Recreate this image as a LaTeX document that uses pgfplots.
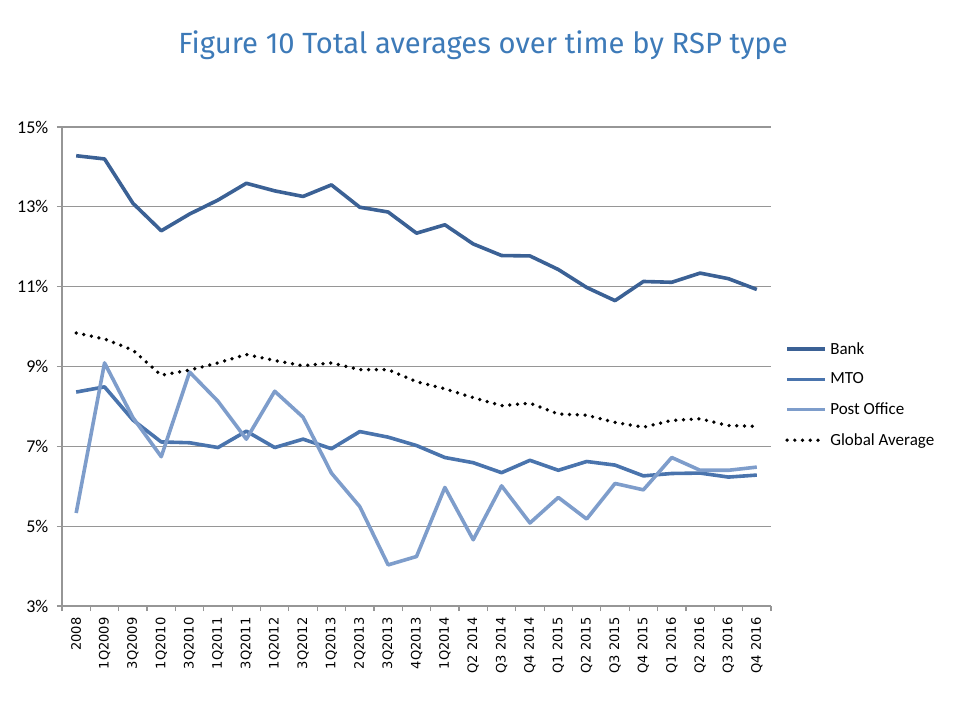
\documentclass[border=0pt]{standalone}
\usepackage{fontspec}
\setmainfont{Carlito}
\newfontfamily\xfont{DejaVu Sans}
\newfontfamily\titlefont{Fira Sans}
\usepackage{pgfplots}
\pgfplotsset{compat=1.18}
\definecolor{bankc}{HTML}{3B6195}
\definecolor{mtoc}{HTML}{4A74AD}
\definecolor{postc}{HTML}{7E9DCB}
\definecolor{titlec}{HTML}{3D7AB8}
\definecolor{gridc}{HTML}{969696}
\begin{document}
\begin{tikzpicture}
\path[use as bounding box] (0pt,0pt) rectangle (721.5pt,531pt);
\node[font=\titlefont\fontsize{21.9}{26}\selectfont, text=titlec] at (362.25pt,497pt) {Figure 10 Total averages over time by RSP type};
\begin{axis}[
  at={(46.5pt,76.5pt)}, anchor=south west,
  scale only axis, width=531.75pt, height=359.25pt,
  xmin=-0.5, xmax=24.5, ymin=3, ymax=15,
  axis x line*=bottom, axis y line*=left,
  axis line style={draw=gridc, line width=0.9pt, -},
  ymajorgrids, grid style={draw=gridc, line width=0.9pt},
  ytick={3,5,...,15},
  yticklabel={\pgfmathprintnumber{\tick}\%},
  /pgf/number format/assume math mode=true,
  yticklabel style={font=\fontsize{13.5}{15}\selectfont, xshift=-3pt},
  tick align=outside, major tick length=3.75pt,
  tick style={draw=gridc, line width=0.9pt},
  xtick={-0.5,0.5,...,24.5}, xticklabels={},
  extra x ticks={0,1,...,24},
  extra x tick style={major tick length=0pt, grid=none},
  extra x tick labels={2008,1Q2009,3Q2009,1Q2010,3Q2010,1Q2011,3Q2011,1Q2012,3Q2012,1Q2013,2Q2013,3Q2013,4Q2013,1Q2014,Q2 2014,Q3 2014,Q4 2014,Q1 2015,Q2 2015,Q3 2015,Q4 2015,Q1 2016,Q2 2016,Q3 2016,Q4 2016},
  x tick label style={font=\xfont\fontsize{9.8}{11}\selectfont, rotate=90, anchor=east, xshift=-5pt},
  legend style={at={(1.0197,0.558)}, anchor=north west, draw=none, fill=none,
    font=\fontsize{12.75}{15}\selectfont, inner sep=0pt, row sep=7.6pt,
    nodes={inner sep=2.5pt}},
  legend cell align=left,
  legend image code/.code={\draw[#1] (0pt,0pt) -- (28.5pt,0pt);},
]
\addplot[bankc, line width=2.7pt, line join=round] coordinates {
(0,14.28)(1,14.2)(2,13.09)(3,12.4)(4,12.82)(5,13.17)(6,13.59)(7,13.4)(8,13.26)(9,13.55)(10,12.99)(11,12.87)(12,12.34)(13,12.55)(14,12.07)(15,11.78)(16,11.77)(17,11.43)(18,10.98)(19,10.65)(20,11.13)(21,11.11)(22,11.34)(23,11.2)(24,10.93)};
\addlegendentry{Bank}
\addplot[mtoc, line width=2.7pt, line join=round] coordinates {
(0,8.36)(1,8.49)(2,7.66)(3,7.11)(4,7.09)(5,6.97)(6,7.38)(7,6.97)(8,7.18)(9,6.94)(10,7.37)(11,7.23)(12,7.02)(13,6.72)(14,6.59)(15,6.34)(16,6.65)(17,6.4)(18,6.62)(19,6.53)(20,6.26)(21,6.32)(22,6.33)(23,6.23)(24,6.28)};
\addlegendentry{MTO}
\addplot[postc, line width=2.7pt, line join=round] coordinates {
(0,5.33)(1,9.09)(2,7.72)(3,6.74)(4,8.86)(5,8.13)(6,7.18)(7,8.38)(8,7.73)(9,6.33)(10,5.49)(11,4.03)(12,4.24)(13,5.97)(14,4.66)(15,6.01)(16,5.08)(17,5.72)(18,5.18)(19,6.07)(20,5.91)(21,6.72)(22,6.4)(23,6.4)(24,6.48)};
\addlegendentry{Post Office}
\addplot[black, line width=2.8pt, line cap=round, dash pattern=on 0pt off 5.8pt] coordinates {
(0,9.84)(1,9.69)(2,9.41)(3,8.78)(4,8.91)(5,9.09)(6,9.3)(7,9.15)(8,9.02)(9,9.09)(10,8.92)(11,8.92)(12,8.62)(13,8.44)(14,8.22)(15,8.02)(16,8.08)(17,7.81)(18,7.78)(19,7.6)(20,7.48)(21,7.65)(22,7.69)(23,7.52)(24,7.5)};
\addlegendentry{Global Average}
\end{axis}
\end{tikzpicture}
\end{document}
